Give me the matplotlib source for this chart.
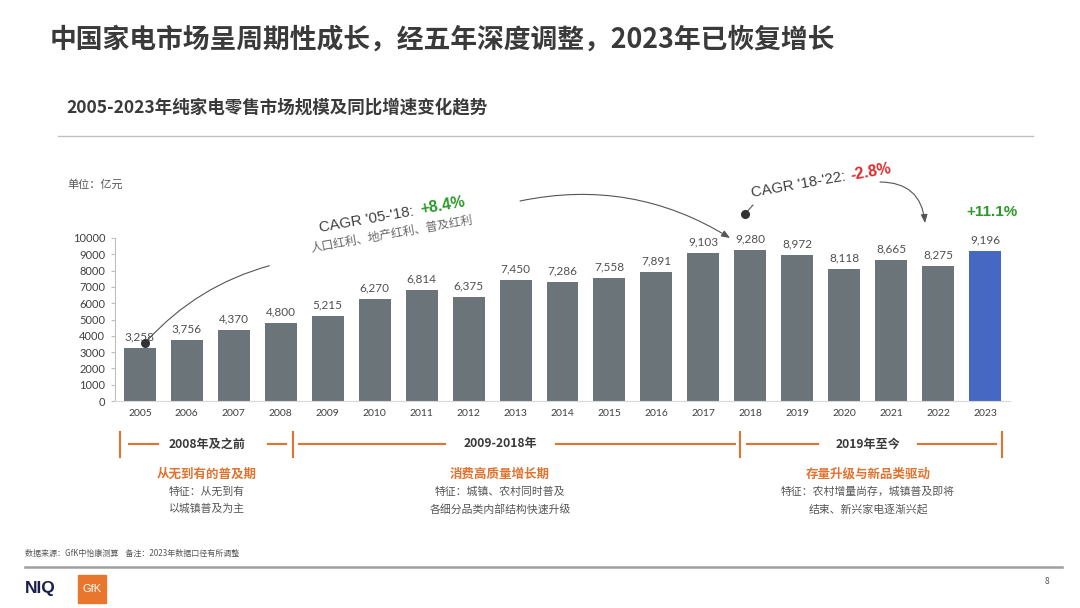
import matplotlib
matplotlib.use("Agg")
import matplotlib.pyplot as plt
from matplotlib.lines import Line2D
from matplotlib.patches import Rectangle

plt.rcParams['font.family'] = ['Noto Sans CJK SC', 'DejaVu Sans']

# data
years = ['2005', '2006', '2007', '2008', '2009', '2010', '2011', '2012', '2013', '2014',
         '2015', '2016', '2017', '2018', '2019', '2020', '2021', '2022', '2023']
values = [3258, 3756, 4370, 4800, 5215, 6270, 6814, 6375, 7450, 7286,
          7558, 7891, 9103, 9280, 8972, 8118, 8665, 8275, 9196]
yticks = [0, 1000, 2000, 3000, 4000, 5000, 6000, 7000, 8000, 9000, 10000]

periods = ['2008年及之前', '2009-2018年', '2019年至今']
phase_names = ['从无到有的普及期', '消费高质量增长期', '存量升级与新品类驱动']
phase_notes = [['特征：从无到有', '以城镇普及为主'],
               ['特征：城镇、农村同时普及', '各细分品类内部结构快速升级'],
               ['特征：农村增量尚存，城镇普及即将', '结束、新兴家电逐渐兴起']]

GRAY_BAR = '#6b7579'
BLUE_BAR = '#4667c2'
ORANGE = '#e07330'
GREEN = '#2a9a2a'
RED = '#e02b2b'
TXT = '#3a3a3a'
NUM = ['Lato', 'Noto Sans CJK SC']

W, H = 1080, 608


def fx(x):
    return x / W


def fy(y):
    return 1 - y / H


def P(x, y):
    return (fx(x), fy(y))


def hline(x0, x1, y, **kw):
    fig.add_artist(Line2D([fx(x0), fx(x1)], [fy(y), fy(y)], transform=fig.transFigure, **kw))


def vline(x, y0, y1, **kw):
    fig.add_artist(Line2D([fx(x), fx(x)], [fy(y0), fy(y1)], transform=fig.transFigure, **kw))


fig = plt.figure(figsize=(10.8, 6.08), dpi=100)
fig.patch.set_facecolor('white')

# headings
fig.text(fx(50), fy(40), '中国家电市场呈周期性成长，经五年深度调整，2023年已恢复增长',
         fontsize=19.3, fontweight='bold', color=TXT, va='center', ha='left')
fig.text(fx(66), fy(107), '2005-2023年纯家电零售市场规模及同比增速变化趋势',
         fontsize=12.6, fontweight='bold', color=TXT, va='center', ha='left')
hline(58, 1033, 136, color='#c0c0c0', lw=1)
fig.text(fx(67), fy(184), '单位：亿元', fontsize=8, color='#555555', va='center')

# bar chart
ax = fig.add_axes([fx(115), fy(401), fx(1010) - fx(115), fy(238) - fy(401)])
x = list(range(len(years)))
colors = [GRAY_BAR] * (len(years) - 1) + [BLUE_BAR]
bars = ax.bar(x, values, width=0.68, color=colors, zorder=2)
for xi, v in zip(x, values):
    ax.annotate(f'{v:,}', (xi, v), xytext=(0, 4), textcoords='offset points',
                ha='center', va='bottom', fontsize=8.5, color='#505050', family=NUM)
ax.set_xlim(-0.53, len(years) - 0.47)
ax.set_ylim(0, 10000)
ax.set_yticks(yticks)
ax.set_yticklabels([str(t) for t in yticks], family=NUM, fontsize=8, color='#404040')
ax.set_xticks(x)
ax.set_xticklabels(years, family=NUM, fontsize=7.5, color='#404040')
ax.tick_params(axis='x', length=0, pad=6)
ax.tick_params(axis='y', length=3, color='#bfbfbf', pad=4)
for s in ['top', 'right']:
    ax.spines[s].set_visible(False)
ax.spines['left'].set_color('#bfbfbf')
ax.spines['bottom'].set_color('#d9d9d9')
ax.set_facecolor('none')

# CAGR annotations
arrow_kw = dict(color='#555555', lw=0.8)
ax_dot = dict(marker='o', markersize=5.5, color='#333333', transform=fig.transFigure)
fig.add_artist(Line2D([fx(145)], [fy(343)], **ax_dot))
fig.add_artist(Line2D([fx(745)], [fy(214)], **ax_dot))

ax.annotate('', xy=P(272, 265), xytext=P(145, 343), xycoords='figure fraction',
            textcoords='figure fraction',
            arrowprops=dict(arrowstyle='-', connectionstyle='arc3,rad=-0.15', **arrow_kw))
ax.annotate('', xy=P(730, 238), xytext=P(520, 201), xycoords='figure fraction',
            textcoords='figure fraction',
            arrowprops=dict(arrowstyle='-|>,head_length=0.5,head_width=0.2',
                            connectionstyle='arc3,rad=-0.2', shrinkA=0, shrinkB=0, **arrow_kw))
ax.annotate('', xy=P(753, 205), xytext=P(745, 214), xycoords='figure fraction',
            textcoords='figure fraction',
            arrowprops=dict(arrowstyle='-', shrinkA=0, shrinkB=0, **arrow_kw))
ax.annotate('', xy=P(925, 223), xytext=P(880, 182), xycoords='figure fraction',
            textcoords='figure fraction',
            arrowprops=dict(arrowstyle='-|>,head_length=0.5,head_width=0.2',
                            connectionstyle='arc3,rad=-0.45', shrinkA=0, shrinkB=0, **arrow_kw))

rot = 10
fig.text(fx(320), fy(232), "CAGR '05-'18: ", rotation=rot, rotation_mode='anchor',
         ha='left', va='baseline', fontsize=10.8, color='#404040', family=['Liberation Sans'])
fig.text(fx(421), fy(214), '+8.4%', rotation=rot, rotation_mode='anchor',
         ha='left', va='baseline', fontsize=11.3, fontweight='bold', color=GREEN, family=['Liberation Sans'])
fig.text(fx(311), fy(252), '人口红利、地产红利、普及红利', rotation=rot, rotation_mode='anchor',
         ha='left', va='baseline', fontsize=8.5, color='#666666')
fig.text(fx(752), fy(197), "CAGR '18-'22: ", rotation=rot, rotation_mode='anchor',
         ha='left', va='baseline', fontsize=10.8, color='#404040', family=['Liberation Sans'])
fig.text(fx(851), fy(180), '-2.8%', rotation=rot, rotation_mode='anchor',
         ha='left', va='baseline', fontsize=11.3, fontweight='bold', color=RED, family=['Liberation Sans'])
fig.text(fx(992), fy(212), '+11.1%', ha='center', va='center', fontsize=11,
         fontweight='bold', color=GREEN, family=['Liberation Sans'])

# timeline
for xx in [120, 293, 740, 1002]:
    vline(xx, 432, 457, color=ORANGE, lw=1.5)
for a, b in [(129, 158), (268, 286), (299, 445), (556, 735), (747, 818), (918, 996)]:
    hline(a, b, 444, color=ORANGE, lw=1.5)
centers = [207, 500, 868]
for cx, per, name, notes in zip(centers, periods, phase_names, phase_notes):
    fig.text(fx(cx), fy(444), per, ha='center', va='center', fontsize=8.7,
             fontweight='bold', color=TXT)
    fig.text(fx(cx), fy(474), name, ha='center', va='center', fontsize=9,
             fontweight='bold', color=ORANGE)
    for i, line in enumerate(notes):
        fig.text(fx(cx), fy(492 + 17 * i), line, ha='center', va='center',
                 fontsize=7.8, color='#555555')

# footer
fig.text(fx(25), fy(553), '数据来源：GfK中怡康测算    备注：2023年数据口径有所调整',
         fontsize=5.8, color='#555555', va='center')
hline(25, 1062, 567, color='#a0a0a0', lw=1.8)
fig.text(fx(25), fy(589), 'NIQ', fontsize=12.5, fontweight='heavy', color='#1b1f4a',
         va='center', family=['Liberation Sans'])
fig.add_artist(Rectangle(P(78, 603), fx(106) - fx(78), fy(575) - fy(603),
                         transform=fig.transFigure, color='#e8762d'))
fig.text(fx(92), fy(589), 'GfK', fontsize=8, color='white', ha='center', va='center',
         family=['Liberation Sans'])
fig.text(fx(1045), fy(582), '8', fontsize=6, color='#555555', va='center')

fig.savefig('out.png', dpi=100, facecolor='white')
